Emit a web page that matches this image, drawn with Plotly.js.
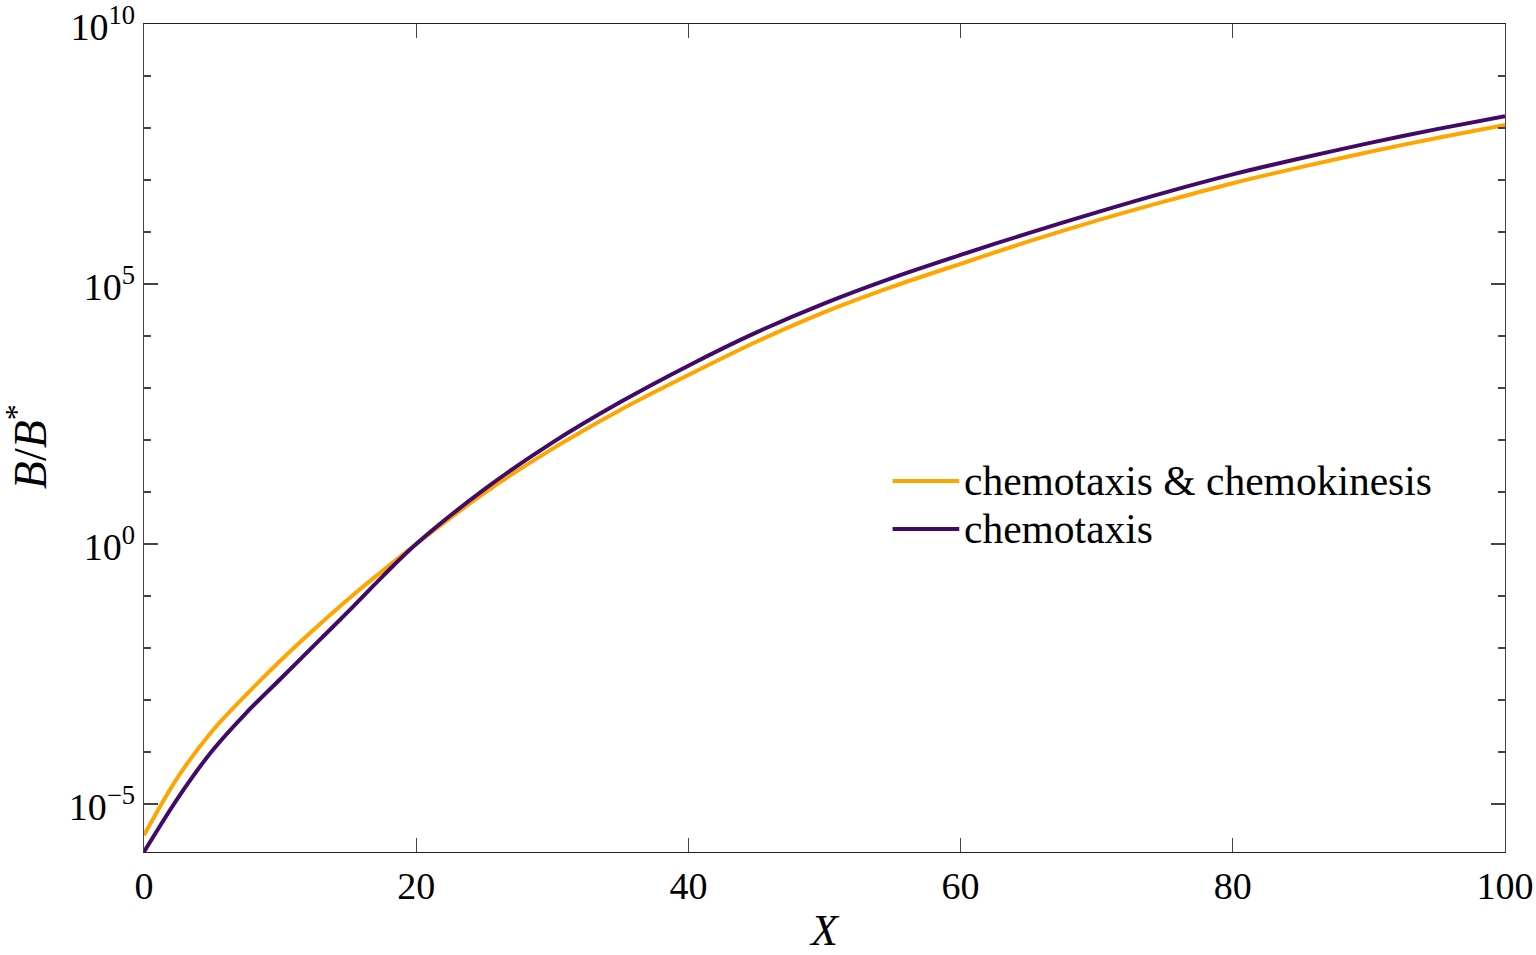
<!DOCTYPE html>
<html>
<head>
<meta charset="utf-8">
<script src="https://cdn.plot.ly/plotly-3.0.1.min.js"></script>
<style>html,body{margin:0;padding:0;background:#fff;}#chart{width:1536px;height:955px;}</style>
</head>
<body>
<div id="chart"></div>
<script>
// X positions
const xValues = [0, 2.5, 5, 7.5, 10, 12.5, 15, 17.5, 20, 25, 30, 35, 40, 45, 50, 55, 60, 65, 70, 75, 80, 85, 90, 95, 100];
// log10(B/B*)
const chemotaxisKinesisLog10 = [-5.60, -4.48, -3.60, -2.90, -2.25, -1.64, -1.06, -0.52, 0.00, 0.98, 1.83, 2.58, 3.25, 3.89, 4.46, 4.95, 5.39, 5.82, 6.22, 6.59, 6.94, 7.25, 7.54, 7.81, 8.06];
const chemotaxisLog10 = [-5.92, -4.88, -3.98, -3.25, -2.60, -1.95, -1.30, -0.63, 0.00, 1.05, 1.95, 2.73, 3.43, 4.07, 4.63, 5.12, 5.56, 5.98, 6.38, 6.76, 7.11, 7.42, 7.71, 7.98, 8.23];
const seriesNames = ["chemotaxis &amp; chemokinesis", "chemotaxis"];
const seriesColors = ["#FFA500", "#420A68"];
const yMajorTicks = [1e-5, 1, 1e5, 1e10];
const yMajorText = ["10<sup>−5</sup>", "10<sup>0</sup>", "10<sup>5</sup>", "10<sup>10</sup>"];
const yMinorTicks = [1e-4,1e-3,1e-2,1e-1,10,100,1e3,1e4,1e6,1e7,1e8,1e9];
const xTicks = [0, 20, 40, 60, 80, 100];
const xTitle = "<i>X</i>";
const yTitle = "<i>B</i>/<i>B</i><sup>*</sup>";

const toVal = a => a.map(v => Math.pow(10, v));
const FONT = "Liberation Serif, Times New Roman, serif";

const traces = [
  {x: xValues, y: toVal(chemotaxisKinesisLog10), name: seriesNames[0], mode: "lines",
   line: {color: seriesColors[0], width: 4, shape: "spline", smoothing: 0.9}},
  {x: xValues, y: toVal(chemotaxisLog10), name: seriesNames[1], mode: "lines",
   line: {color: seriesColors[1], width: 4, shape: "spline", smoothing: 0.9}}
];

const legX0 = 0.550, legX1 = 0.599, legY = [0.448, 0.390];
const shapes = legY.map((yy, i) => ({type: "line", xref: "paper", yref: "paper",
  x0: legX0, x1: legX1, y0: yy, y1: yy, line: {color: seriesColors[i], width: 4}}));
const annotations = legY.map((yy, i) => ({xref: "paper", yref: "paper", x: legX1 + 0.002, y: yy,
  xanchor: "left", yanchor: "middle", text: seriesNames[i], showarrow: false,
  font: {family: FONT, size: 41.5, color: "#000"}}));
annotations.push({xref: "paper", yref: "paper", x: -0.086, y: 0.49, xanchor: "center", yanchor: "middle",
  textangle: -90, text: yTitle, showarrow: false, font: {family: FONT, size: 46, color: "#000"}});

const layout = {
  width: 1536, height: 955,
  margin: {l: 144, r: 31, t: 24, b: 103},
  paper_bgcolor: "#fff", plot_bgcolor: "#fff",
  showlegend: false,
  font: {family: FONT, color: "#000"},
  xaxis: {
    range: [0, 100], tickvals: xTicks, ticks: "inside", ticklen: 14, tickwidth: 1.3, tickcolor: "#444",
    showline: true, linecolor: "#222", linewidth: 1.3, mirror: "allticks", showgrid: false, zeroline: false,
    ticklabeloverflow: "allow",
    tickfont: {family: FONT, size: 38, color: "#000"},
    title: {text: xTitle, font: {family: FONT, size: 44, color: "#000"}, standoff: 8}
  },
  yaxis: {
    type: "log", range: [-5.923, 10.002], tickmode: "array", tickvals: yMajorTicks, ticktext: yMajorText,
    ticks: "inside", ticklen: 14, tickwidth: 1.3, tickcolor: "#444",
    minor: {tickmode: "array", tickvals: yMinorTicks, ticks: "inside", ticklen: 7, tickwidth: 1.3, tickcolor: "#444", showgrid: false},
    showline: true, linecolor: "#444", linewidth: 1.3, mirror: "allticks", showgrid: false, zeroline: false,
    ticklabeloverflow: "allow", ticklabelshift: 3,
    tickfont: {family: FONT, size: 38, color: "#000"}
  },
  shapes: shapes,
  annotations: annotations
};

Plotly.newPlot("chart", traces, layout, {displayModeBar: false, staticPlot: true});
</script>
</body>
</html>
